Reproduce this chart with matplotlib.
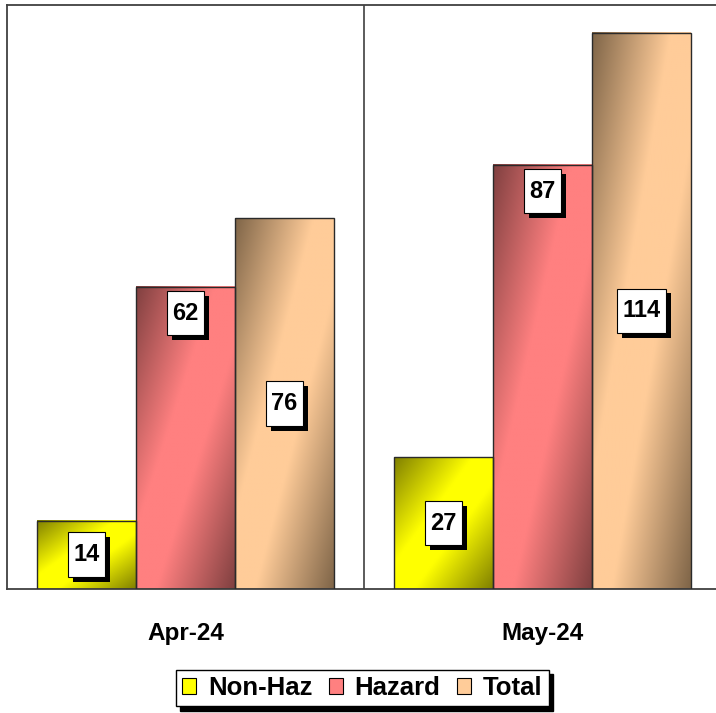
import numpy as np
import matplotlib
matplotlib.use("Agg")
import matplotlib.pyplot as plt
from matplotlib.patches import Patch
from matplotlib.path import Path
import matplotlib.patheffects as pe
import matplotlib.colors as mcolors

# ---- data ----
categories = ["Apr-24", "May-24"]
series_names = ["Non-Haz", "Hazard", "Total"]
non_haz = [14, 27]
hazard = [62, 87]
total = [76, 114]
series_values = [non_haz, hazard, total]
bright_colors = ["#FFFF00", "#FF8080", "#FFCC99"]
dark_colors = ["#808000", "#804040", "#7F6548"]
label_pos = ["center", "top", "center"]

plt.rcParams['font.family'] = ['Liberation Sans', 'DejaVu Sans']

fig = plt.figure(figsize=(7.16, 7.13), dpi=100)
ax = fig.add_axes([7/716, 1 - 589/713, 714/716, 584/713])
ax.set_xlim(-0.5, len(categories) - 0.5)
ax.set_ylim(0, 119.7)

bw = 0.2773
x = np.arange(len(categories))
LBL_FS = 17
PADX, PADY = 0.22, 0.46


def gradient_img(bright, dark, nrow=300, ncol=80):
    b = np.array(mcolors.to_rgb(bright))
    d = np.array(mcolors.to_rgb(dark))
    u = np.linspace(0, 1, ncol)[None, :]
    v = np.linspace(0, 1, nrow)[:, None]
    t = (u + v) / 2
    w = 1 - np.abs(2 * t - 1)
    w = np.clip(w * 1.25, 0, 1)
    return d[None, None, :] + (b - d)[None, None, :] * w[:, :, None]


class LabelBox:
    def __init__(self, padx, pady):
        self.padx = padx
        self.pady = pady

    def __call__(self, x0, y0, width, height, mutation_size):
        px = self.padx * mutation_size
        py = self.pady * mutation_size
        x0 -= px
        y0 -= py
        x1 = x0 + width + 2 * px
        y1 = y0 + height + 2 * py
        return Path([(x0, y0), (x1, y0), (x1, y1), (x0, y1), (x0, y0)],
                    closed=True)


top_offset_pt = -(3.0 + PADY * LBL_FS)

for i, (name, vals) in enumerate(zip(series_names, series_values)):
    offs = (i - 1) * bw
    bars = ax.bar(x + offs, vals, width=bw, facecolor='none',
                  edgecolor='#2a2a2a', linewidth=1.0, zorder=3)
    img = gradient_img(bright_colors[i], dark_colors[i])
    for b, v in zip(bars, vals):
        x0 = b.get_x()
        ax.imshow(img, extent=(x0, x0 + b.get_width(), 0, b.get_height()),
                  aspect='auto', origin='upper', zorder=2,
                  interpolation='bilinear')
        cx = x0 + b.get_width() / 2
        box = dict(boxstyle=LabelBox(PADX, PADY), facecolor='white',
                   edgecolor='black', linewidth=0.8)
        if label_pos[i] == "center":
            t = ax.text(cx, b.get_height() / 2, str(v), ha='center',
                        va='center', fontsize=LBL_FS, fontweight='bold',
                        zorder=6, bbox=box)
        else:
            t = ax.annotate(str(v), (cx, b.get_height()),
                            xytext=(0, top_offset_pt),
                            textcoords='offset points', ha='center',
                            va='top', fontsize=LBL_FS, fontweight='bold',
                            zorder=6, bbox=box)
        fig.canvas.draw()
        t.get_bbox_patch().set_path_effects([
            pe.SimplePatchShadow(offset=(3.5, -3.5), shadow_rgbFace='black',
                                 alpha=1.0),
            pe.Normal()])

# category separator
ax.axvline(0.5, color='#404040', linewidth=1.2, zorder=1)

for s in ax.spines.values():
    s.set_color('#404040')
    s.set_linewidth(1.3)

ax.set_yticks([])
ax.set_xticks(x)
ax.set_xticklabels(categories, fontsize=17.5, fontweight='bold')
ax.tick_params(axis='x', length=0, pad=24)

handles = [Patch(facecolor=c, edgecolor='black', linewidth=0.8)
           for c in bright_colors]
leg = fig.legend(handles, series_names, loc='center',
                 bbox_to_anchor=(0.506, 0.035), ncol=3, frameon=True,
                 fancybox=False, edgecolor='black',
                 prop=dict(size=18.5, weight='bold'),
                 handlelength=0.55, handleheight=0.55, handletextpad=0.45,
                 columnspacing=0.65, borderpad=0.25, borderaxespad=0,
                 shadow={'color': 'black', 'alpha': 1.0, 'ox': 3, 'oy': -3})
leg.get_frame().set_linewidth(1.0)

fig.savefig("out.png", dpi=100)
